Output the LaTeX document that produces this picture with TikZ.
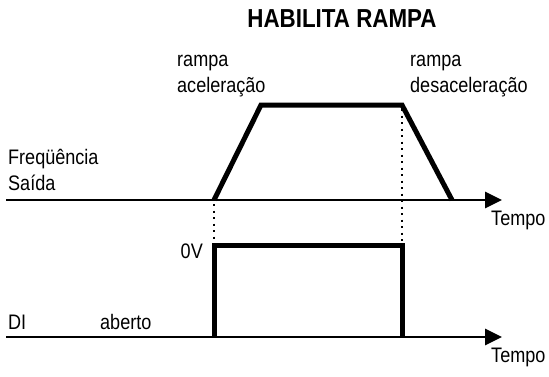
\documentclass[tikz,border=0pt]{standalone}
\usepackage{fontspec}
\setmainfont{Liberation Sans}[FakeStretch=0.86]
\usetikzlibrary{arrows.meta}

\begin{document}
\begin{tikzpicture}[x=1pt, y=-1pt,
  axis/.style={line width=2.8pt, -{Triangle[length=17pt,width=16pt]}},
  signal/.style={line width=5pt, line join=miter},
  guide/.style={line width=2pt, dash pattern=on 2pt off 4.5pt},
  lbl/.style={font=\fontsize{21}{26}\selectfont, inner sep=0pt, align=left},
  title/.style={font=\fontsize{26}{30}\selectfont\bfseries, inner sep=0pt}
]
  \useasboundingbox (0,0) rectangle (549,376);

  \node[title] (ttl) at (342,19) {HABILITA RAMPA};

  % frequencia de saida
  \coordinate (f0) at (6,200);
  \coordinate (f1) at (502,200);
  \coordinate (r0) at (214,200);
  \coordinate (r1) at (261,105);
  \coordinate (r2) at (402,105);
  \coordinate (r3) at (452,200);

  % entrada digital
  \coordinate (d0) at (6,337);
  \coordinate (d1) at (502,337);
  \coordinate (p0) at (214,337);
  \coordinate (p1) at (214,245);
  \coordinate (p2) at (402,245);
  \coordinate (p3) at (402,337);

  \draw[axis] (f0) -- (f1);
  \draw[axis] (d0) -- (d1);
  \draw[signal] (r0) -- (r1) -- (r2) -- (r3);
  \draw[signal] (p0) -- (p1) -- (p2) -- (p3);
  \draw[guide] ([yshift=-4pt]r0) -- ([yshift=4pt]p1);
  \draw[guide] ([yshift=-4pt]r2) -- ([yshift=4pt]p2);

  \node[lbl, anchor=west] (fs)  at (8,170)   {Freqüência\\Saída};
  \node[lbl, anchor=west] (ra)  at (177,76)  {rampa\\aceleração};
  \node[lbl, anchor=west] (rd)  at (410,76)  {rampa\\desaceleração};
  \node[lbl, anchor=west] (t1)  at (491,220) {Tempo};
  \node[lbl, anchor=east] (ov)  at (203,251) {0V};
  \node[lbl, anchor=west] (di)  at (8,322)   {DI};
  \node[lbl, anchor=west] (ab)  at (100,322) {aberto};
  \node[lbl, anchor=west] (t2)  at (491,357) {Tempo};
\end{tikzpicture}
\end{document}
